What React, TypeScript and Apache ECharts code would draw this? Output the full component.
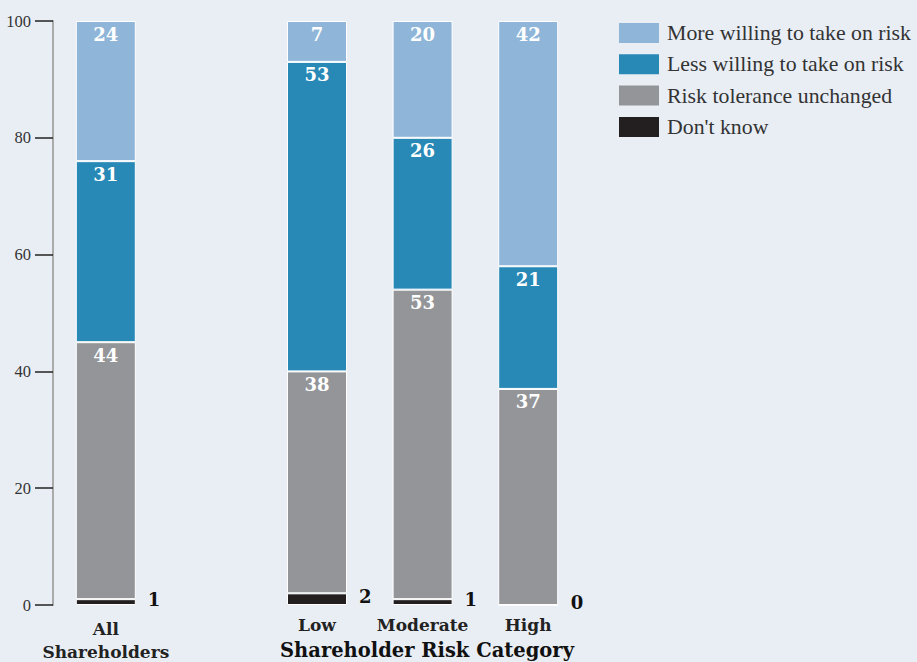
import React, { useEffect, useRef } from "react";
import * as echarts from "echarts";

const categories = ["All\nShareholders", "", "Low", "Moderate", "High"];
const moreWilling = [24, null, 7, 20, 42];
const lessWilling = [31, null, 53, 26, 21];
const unchanged = [44, null, 38, 53, 37];
const dontKnow = [1, null, 2, 1, 0];
const yTicks = [0, 20, 40, 60, 80, 100];
const seriesNames = [
  "More willing to take on risk",
  "Less willing to take on risk",
  "Risk tolerance unchanged",
  "Don't know",
];

const COLORS = ["#8fb6d8", "#2888b6", "#939598", "#231f20"];
const FONT = "Liberation Serif";
const BOLD = "DejaVu Serif";

export default function App() {
  const ref = useRef<HTMLDivElement>(null);
  useEffect(() => {
    if (!ref.current) return;
    const chart = echarts.init(ref.current, null, { renderer: "svg" });
    const insideLabel = {
      show: true,
      position: "insideTop",
      distance: 4,
      color: "#fff",
      fontFamily: BOLD,
      fontWeight: "bold",
      fontSize: 18,
    };
    const common = {
      type: "bar",
      stack: "total",
      barWidth: 60,
    };
    const xData = categories.map((c) =>
      c.includes("\n")
        ? { value: c, textStyle: { padding: [4, 0, 0, 0], lineHeight: 23 } }
        : c
    );
    chart.setOption({
      animation: false,
      backgroundColor: "#e9eef5",
      grid: {
        left: 53,
        right: 336,
        top: 21,
        bottom: 57,
        containLabel: false,
        outerBoundsMode: "none",
      },
      legend: {
        left: 614,
        top: 17,
        orient: "vertical",
        itemWidth: 40,
        itemHeight: 20,
        itemGap: 9.3,
        icon: "rect",
        data: seriesNames,
        itemStyle: { borderWidth: 0 },
        textStyle: { fontFamily: FONT, fontSize: 21.8, color: "#333", padding: [0, 0, 0, 3] },
      },
      xAxis: {
        type: "category",
        data: xData,
        axisLine: { show: false },
        axisTick: { show: false },
        axisLabel: {
          interval: 0,
          margin: 8,
          fontFamily: BOLD,
          fontWeight: "bold",
          fontSize: 17,
          color: "#222",
          lineHeight: 23,
        },
      },
      yAxis: {
        type: "value",
        min: 0,
        max: 100,
        interval: 20,
        splitLine: { show: false },
        axisLine: { show: true, lineStyle: { color: "#aaa", width: 2 } },
        axisTick: { show: true, length: 18, lineStyle: { color: "#222", width: 1.5 } },
        axisLabel: {
          margin: 22,
          fontFamily: FONT,
          fontSize: 16.5,
          color: "#333",
          formatter: (v: number) => (yTicks.includes(v) ? String(v) : ""),
        },
      },
      series: [
        {
          ...common,
          name: seriesNames[3],
          data: dontKnow,
          itemStyle: { color: COLORS[3], borderColor: "#fff", borderWidth: 1 },
          label: {
            show: true,
            position: "right",
            distance: 12,
            offset: [0, -3],
            color: "#111",
            fontFamily: BOLD,
            fontWeight: "bold",
            fontSize: 18,
          },
        },
        {
          ...common,
          name: seriesNames[2],
          data: unchanged,
          itemStyle: { color: COLORS[2], borderColor: "#fff", borderWidth: 1 },
          label: insideLabel,
        },
        {
          ...common,
          name: seriesNames[1],
          data: lessWilling,
          itemStyle: { color: COLORS[1], borderColor: "#fff", borderWidth: 1 },
          label: insideLabel,
        },
        {
          ...common,
          name: seriesNames[0],
          data: moreWilling,
          itemStyle: { color: COLORS[0], borderColor: "#fff", borderWidth: 1 },
          label: insideLabel,
        },
      ],
      graphic: [
        {
          type: "text",
          left: 280,
          top: 640,
          style: {
            text: "Shareholder Risk Category",
            fontFamily: BOLD,
            fontWeight: "bold",
            fontSize: 19.5,
            fill: "#111",
          },
        },
      ],
    });
    return () => chart.dispose();
  }, []);
  return <div ref={ref} style={{ width: 917, height: 662, position: "absolute", left: 0, top: 0 }} />;
}
